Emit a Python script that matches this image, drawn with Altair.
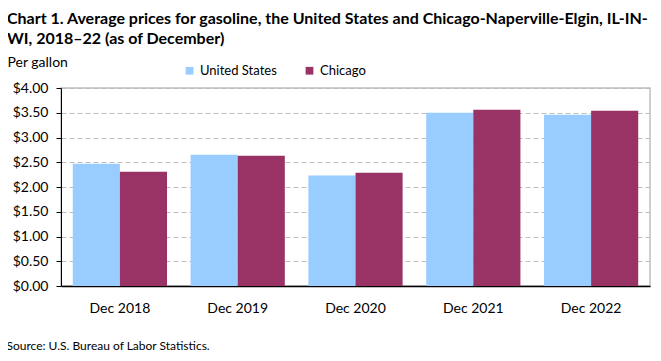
import altair as alt
import pandas as pd

years = ["Dec 2018", "Dec 2019", "Dec 2020", "Dec 2021", "Dec 2022"]
us_prices = [2.47, 2.65, 2.23, 3.50, 3.46]
chicago_prices = [2.31, 2.63, 2.29, 3.56, 3.54]
series = ["United States", "Chicago"]
colors = ["#99CCFF", "#993366"]
y_ticks = [0, 0.5, 1, 1.5, 2, 2.5, 3, 3.5, 4]

rows = []
for i, yr in enumerate(years):
    rows.append({"period": yr, "area": series[0], "price": us_prices[i]})
    rows.append({"period": yr, "area": series[1], "price": chicago_prices[i]})
df = pd.DataFrame(rows)

FONT = "Lato"

chart = alt.Chart(df).mark_bar().encode(
    x=alt.X("period:N", sort=years,
            scale=alt.Scale(paddingInner=0.2, paddingOuter=0.1),
            axis=alt.Axis(title="Source: U.S. Bureau of Labor Statistics.",
                          titleX=-55, titleY=63, titleAlign="left", titleBaseline="alphabetic",
                          titleFontWeight="normal", titleFontSize=12, titleFont=FONT, titleColor="#000",
                          labelAngle=0, labelFontSize=14, labelFont=FONT, labelColor="#000",
                          labelBaseline="alphabetic", labelPadding=26,
                          ticks=False, domainColor="#000", domainWidth=1.5, grid=False)),
    xOffset=alt.XOffset("area:N", sort=series),
    y=alt.Y("price:Q", scale=alt.Scale(domain=[0, 4]),
            axis=alt.Axis(values=y_ticks, format="$.2f", title="Per gallon",
                          titleAngle=0, titleX=-54, titleY=-22, titleAlign="left",
                          titleBaseline="alphabetic", titleFontWeight="normal", titleFontSize=14,
                          titleFont=FONT, titleColor="#000",
                          labelFontSize=14, labelFont=FONT, labelColor="#000", labelPadding=8,
                          tickSize=5, tickColor="#000", domainColor="#000", domainWidth=1,
                          grid=True, gridColor="#BFBFBF", gridDash=[5, 3])),
    color=alt.Color("area:N", sort=series,
                    scale=alt.Scale(domain=series, range=colors),
                    legend=alt.Legend(title=None, orient="none", direction="horizontal",
                                      legendX=122, legendY=-24, symbolType="square",
                                      symbolSize=60, symbolStrokeWidth=0, symbolOpacity=1,
                                      labelFontSize=13, labelFont=FONT, labelColor="#000",
                                      columnPadding=26, labelOffset=4)),
).properties(
    width=589, height=198,
    title=alt.TitleParams(
        text=["Chart 1. Average prices for gasoline, the United States and Chicago-Naperville-Elgin, IL-IN-",
              "WI, 2018–22 (as of December)"],
        anchor="start", frame="group", dx=-54, dy=2, font=FONT, fontSize=16, fontWeight="bold",
        color="#000", lineHeight=20, baseline="top", offset=10),
    autosize=alt.AutoSizeParams(type="none"),
    padding={"left": 53, "top": 80, "right": 3, "bottom": 67},
).configure_view(stroke="#BFBFBF", strokeWidth=1.5)

chart.save("out.html", embed_options={"renderer": "svg", "actions": False})
